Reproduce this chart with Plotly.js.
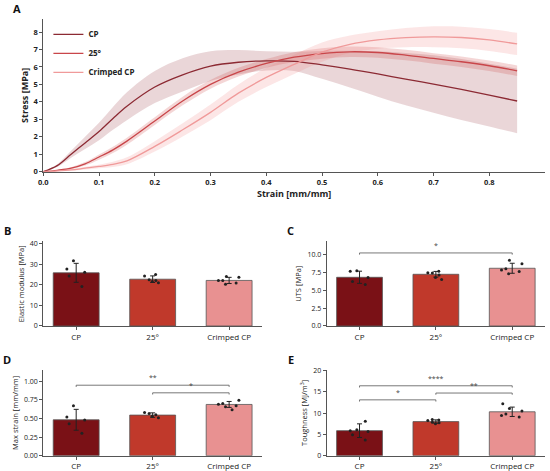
<!DOCTYPE html>
<html><head><meta charset="utf-8">
<script src="https://cdn.plot.ly/plotly-3.0.1.min.js"></script>
<style>html,body{margin:0;padding:0;background:#fff}#chart{width:550px;height:471px}</style>
</head><body><div id="chart"></div>
<script>
// ---- Panel A data: stress-strain curves (mean and SD band) ----
var strain = [0, 0.025, 0.05, 0.075, 0.1, 0.125, 0.15, 0.2, 0.25, 0.3, 0.35, 0.4, 0.45, 0.5, 0.55, 0.6, 0.65, 0.7, 0.75, 0.8, 0.85];
var cpMean = [0, 0.35, 1.0, 1.65, 2.3, 3.05, 3.75, 4.85, 5.55, 6.05, 6.27, 6.35, 6.32, 6.12, 5.88, 5.6, 5.3, 5.02, 4.71, 4.39, 4.05];
var cpSd   = [0, 0.08, 0.2, 0.35, 0.5, 0.65, 0.8, 0.92, 0.95, 0.85, 0.7, 0.55, 0.55, 0.8, 1.05, 1.3, 1.5, 1.65, 1.75, 1.8, 1.85];
var d25Mean = [0, 0.08, 0.2, 0.45, 0.84, 1.25, 1.75, 2.9, 4.05, 5.0, 5.7, 6.2, 6.56, 6.77, 6.87, 6.83, 6.68, 6.49, 6.3, 6.07, 5.78];
var d25Sd   = [0, 0.03, 0.06, 0.1, 0.15, 0.18, 0.2, 0.22, 0.25, 0.25, 0.25, 0.25, 0.28, 0.3, 0.3, 0.3, 0.3, 0.3, 0.3, 0.3, 0.3];
var crMean = [0, 0.04, 0.1, 0.2, 0.3, 0.42, 0.62, 1.45, 2.4, 3.4, 4.5, 5.4, 6.15, 6.85, 7.3, 7.55, 7.68, 7.73, 7.69, 7.55, 7.32];
var crSd   = [0, 0.03, 0.05, 0.08, 0.1, 0.15, 0.2, 0.3, 0.38, 0.45, 0.5, 0.55, 0.55, 0.55, 0.5, 0.5, 0.55, 0.6, 0.62, 0.63, 0.64];
var seriesNames = ['CP', '25°', 'Crimped CP'];

// ---- Bar panels data ----
var categories = ['CP', '25°', 'Crimped CP'];
var modulusMean = [25.8, 22.7, 22.1];
var modulusSd = [4.6, 1.6, 1.5];
var modulusPts = [[26.1, 31.7, 27.7, 24.3, 19.2], [25.0, 24.3, 22.4, 22.1, 21.0, 21.6], [22.1, 20.8, 23.7, 24.0, 22.1, 20.2]];
var utsMean = [6.8, 7.22, 8.06];
var utsSd = [0.85, 0.4, 0.7];
var utsPts = [[6.76, 5.8, 7.64, 7.7, 6.2], [7.64, 6.76, 7.4, 7.13, 7.45, 6.5], [7.6, 8.0, 9.17, 8.7, 7.8, 7.3]];
var maxStrainMean = [0.482, 0.545, 0.688];
var maxStrainSd = [0.14, 0.03, 0.04];
var maxStrainPts = [[0.48, 0.43, 0.67, 0.52, 0.3], [0.58, 0.51, 0.55, 0.567, 0.53], [0.67, 0.616, 0.69, 0.745, 0.70, 0.656]];
var toughMean = [5.87, 8.0, 10.3];
var toughSd = [1.6, 0.4, 1.1];
var toughPts = [[5.87, 6.1, 8.1, 5.7, 3.7, 4.9], [8.25, 7.5, 7.86, 8.5, 8.4, 7.7], [9.1, 9.44, 12.2, 11.1, 9.8, 10.5]];

// significance brackets: [from, to, height, label]
var utsSig = [[0, 2, 10.2, '*']];
var maxStrainSig = [[0, 2, 0.946, '**'], [1, 2, 0.844, '*']];
var toughSig = [[0, 2, 16.4, '****'], [1, 2, 14.7, '**'], [0, 1, 13.1, '*']];

// ---- styles ----
var lineColors = ['#8c2a33', '#c9464a', '#f09a9a'];
var bandColors = ['rgba(150,50,60,0.20)', 'rgba(205,70,70,0.22)', 'rgba(240,130,130,0.20)'];
var barColors = ['#7a1116', '#c0392b', '#e89191'];
var FONT = 'Open Sans, Noto Sans, sans-serif';

var traces = [];
var means = [cpMean, d25Mean, crMean];
var sds = [cpSd, d25Sd, crSd];
for (var s = 0; s < 3; s++) {
  var up = means[s].map(function (v, i) { return v + sds[s][i]; });
  var lo = means[s].map(function (v, i) { return Math.max(0, v - sds[s][i]); });
  traces.push({x: strain, y: up, mode: 'lines', line: {width: 0, shape: 'spline'}, showlegend: false, hoverinfo: 'skip', xaxis: 'x', yaxis: 'y'});
  traces.push({x: strain, y: lo, mode: 'lines', line: {width: 0, shape: 'spline'}, fill: 'tonexty', fillcolor: bandColors[s], showlegend: false, hoverinfo: 'skip', xaxis: 'x', yaxis: 'y'});
}
for (var s2 = 0; s2 < 3; s2++) {
  traces.push({x: strain, y: means[s2], mode: 'lines', name: seriesNames[s2], line: {color: lineColors[s2], width: 1.3, shape: 'spline'}, xaxis: 'x', yaxis: 'y'});
}

var panels = [
  {mean: modulusMean, sd: modulusSd, pts: modulusPts, sig: [], ax: '2'},
  {mean: utsMean, sd: utsSd, pts: utsPts, sig: utsSig, ax: '3'},
  {mean: maxStrainMean, sd: maxStrainSd, pts: maxStrainPts, sig: maxStrainSig, ax: '4'},
  {mean: toughMean, sd: toughSd, pts: toughPts, sig: toughSig, ax: '5'}
];
var shapes = [], annotations = [];
panels.forEach(function (p) {
  traces.push({type: 'bar', x: categories, y: p.mean, width: 0.6,
    marker: {color: barColors, line: {color: '#555', width: 0.8}},
    error_y: {type: 'data', array: p.sd, visible: true, color: '#222', thickness: 1, width: 2.5},
    showlegend: false, xaxis: 'x' + p.ax, yaxis: 'y' + p.ax});
  var px = [], py = [];
  p.pts.forEach(function (arr, g) { arr.forEach(function (v) { px.push(categories[g]); py.push(v); }); });
  traces.push({type: 'box', x: px, y: py, boxpoints: 'all', jitter: 0.9, pointpos: 0, width: 0.32,
    marker: {color: '#222', size: 3}, line: {width: 0}, fillcolor: 'rgba(0,0,0,0)', whiskerwidth: 0,
    showlegend: false, hoverinfo: 'skip', xaxis: 'x' + p.ax, yaxis: 'y' + p.ax});
});
var ranges = {'3': 11.8, '4': 1.15, '5': 20.1};
panels.forEach(function (p) {
  p.sig.forEach(function (b) {
    var drop = ranges[p.ax] * 0.02;
    var xr = 'x' + p.ax, yr = 'y' + p.ax, st = {color: '#555', width: 0.8};
    shapes.push({type: 'line', xref: xr, yref: yr, x0: b[0], x1: b[1], y0: b[2], y1: b[2], line: st});
    shapes.push({type: 'line', xref: xr, yref: yr, x0: b[0], x1: b[0], y0: b[2], y1: b[2] - drop, line: st});
    shapes.push({type: 'line', xref: xr, yref: yr, x0: b[1], x1: b[1], y0: b[2], y1: b[2] - drop, line: st});
    annotations.push({xref: xr, yref: yr, x: (b[0] + b[1]) / 2, y: b[2], text: b[3], showarrow: false, yanchor: 'bottom', yshift: 1, font: {size: 7, color: '#444', family: FONT}});
  });
});
var letters = [['A', 0.030, 0.983], ['B', 0.0135, 0.5096], ['C', 0.529, 0.5096], ['D', 0.0135, 0.2357], ['E', 0.529, 0.2357]];
letters.forEach(function (l) {
  annotations.push({xref: 'paper', yref: 'paper', x: l[1], y: l[2], text: '<b>' + l[0] + '</b>', showarrow: false, xanchor: 'center', yanchor: 'middle', font: {size: 11, color: '#111', family: FONT}});
});

function barX(dom) {
  return {domain: dom, type: 'category', range: [-0.43, 2.43], showline: true, linecolor: '#555', linewidth: 1, ticks: 'outside', ticklen: 3, tickcolor: '#555', tickfont: {size: 8, color: '#222', family: FONT}, showgrid: false, zeroline: false, fixedrange: true};
}
function barY(dom, rng, dtick, fmt, title) {
  return {domain: dom, range: [0, rng], dtick: dtick, tickformat: fmt, showline: true, linecolor: '#555', linewidth: 1, ticks: 'outside', ticklen: 3, tickcolor: '#555', tickfont: {size: 7, color: '#222', family: FONT}, showgrid: false, zeroline: false, title: {text: title, font: {size: 7.5, color: '#222', family: FONT}, standoff: 4}};
}
var L = [0.0787, 0.4764], R = [0.594, 0.991], TOP = [0.3079, 0.4873], BOT = [0.0325, 0.2144];
var layout = {
  width: 550, height: 471, margin: {l: 0, r: 0, t: 0, b: 0}, paper_bgcolor: '#fff', plot_bgcolor: '#fff',
  font: {family: FONT, color: '#222'}, showlegend: true,
  legend: {x: 0.088, y: 0.958, xanchor: 'left', yanchor: 'top', traceorder: 'normal', bgcolor: 'rgba(0,0,0,0)', font: {size: 8, color: '#222', family: FONT, weight: 'bold'}, tracegroupgap: 0, itemwidth: 30},
  xaxis: {domain: [0.0787, 0.9909], range: [0, 0.9], tickvals: [0, 0.1, 0.2, 0.3, 0.4, 0.5, 0.6, 0.7, 0.8], tickformat: '.1f', showline: true, linecolor: '#555', linewidth: 1, ticks: 'outside', ticklen: 3, tickcolor: '#555', tickfont: {size: 7.5, weight: 'bold', family: FONT}, showgrid: false, zeroline: false, title: {text: 'Strain [mm/mm]', font: {size: 9, weight: 'bold', family: FONT}, standoff: 2}},
  yaxis: {domain: [0.6355, 0.9597], range: [0, 8.75], dtick: 1, showline: true, linecolor: '#555', linewidth: 1, ticks: 'outside', ticklen: 3, tickcolor: '#555', tickfont: {size: 7.5, weight: 'bold', family: FONT}, showgrid: false, zeroline: false, title: {text: 'Stress [MPa]', font: {size: 9, weight: 'bold', family: FONT}, standoff: 3}},
  xaxis2: Object.assign(barX(L), {anchor: 'y2'}),
  yaxis2: Object.assign(barY(TOP, 41, 10, '', 'Elastic modulus [MPa]'), {anchor: 'x2'}),
  xaxis3: Object.assign(barX(R), {anchor: 'y3'}),
  yaxis3: Object.assign(barY(TOP, 11.8, 2.5, '.1f', 'UTS [MPa]'), {anchor: 'x3'}),
  xaxis4: Object.assign(barX(L), {anchor: 'y4'}),
  yaxis4: Object.assign(barY(BOT, 1.15, 0.25, '.2f', 'Max strain [mm/mm]'), {anchor: 'x4'}),
  xaxis5: Object.assign(barX(R), {anchor: 'y5'}),
  yaxis5: Object.assign(barY(BOT, 20.1, 5, '', 'Toughness [MJ/m<sup>3</sup>]'), {anchor: 'x5'}),
  shapes: shapes, annotations: annotations
};
Plotly.newPlot('chart', traces, layout, {displayModeBar: false, staticPlot: true});
</script></body></html>
